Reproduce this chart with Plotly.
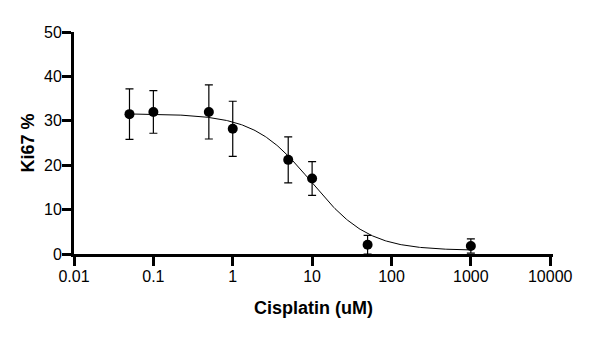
import numpy as np
import plotly.graph_objects as go

# Data
conc = [0.05, 0.1, 0.5, 1, 5, 10, 50, 1000]
ki67 = [31.5, 32.0, 32.0, 28.2, 21.2, 17.0, 2.1, 1.8]
err = [5.7, 4.8, 6.1, 6.2, 5.2, 3.8, 2.1, 1.6]

# Fitted 4-parameter logistic curve parameters
fit_top = 31.6
fit_bottom = 0.8
fit_ec50 = 9.8
fit_hill = 1.2
fit_range = [0.05, 1000]

x_ticks = [0.01, 0.1, 1, 10, 100, 1000, 10000]
x_ticklabels = ["0.01", "0.1", "1", "10", "100", "1000", "10000"]
y_ticks = [0, 10, 20, 30, 40, 50]

xf = np.logspace(np.log10(fit_range[0]), np.log10(fit_range[1]), 300)
yf = fit_bottom + (fit_top - fit_bottom) / (1 + (xf / fit_ec50) ** fit_hill)

font = "Liberation Sans, Arial, sans-serif"

fig = go.Figure()
fig.add_trace(go.Scatter(x=xf, y=yf, mode="lines",
                         line=dict(color="black", width=1), showlegend=False,
                         hoverinfo="skip"))
fig.add_trace(go.Scatter(x=conc, y=ki67, mode="markers",
                         marker=dict(color="black", size=10),
                         error_y=dict(type="data", array=err, visible=True,
                                      color="black", thickness=1.2, width=4),
                         showlegend=False))

fig.update_layout(
    width=588, height=349,
    margin=dict(l=66, r=43, t=24, b=103),
    paper_bgcolor="white", plot_bgcolor="white",
    font=dict(family=font, color="black"),
    xaxis=dict(type="log", range=[-2, 4.035], tickvals=x_ticks, ticktext=x_ticklabels,
               showgrid=False, zeroline=False, showline=True, linecolor="black",
               linewidth=3, ticks="outside", ticklen=9, tickwidth=3, tickcolor="black",
               tickfont=dict(size=16, family=font), automargin=False,
               ticklabelstandoff=-3,
               title=dict(text="<b>Cisplatin (uM)</b>", font=dict(size=18, family=font),
                          standoff=18)),
    yaxis=dict(range=[0, 50], tickvals=y_ticks, showgrid=False, zeroline=False,
               showline=True, linecolor="black", linewidth=3, ticks="outside",
               ticklen=9, tickwidth=3, tickcolor="black",
               tickfont=dict(size=16, family=font), automargin=False,
               ticklabelstandoff=-3,
               title=dict(text="<b>Ki67 %</b>", font=dict(size=18, family=font),
                          standoff=5)),
)

fig.write_html("out.html")
